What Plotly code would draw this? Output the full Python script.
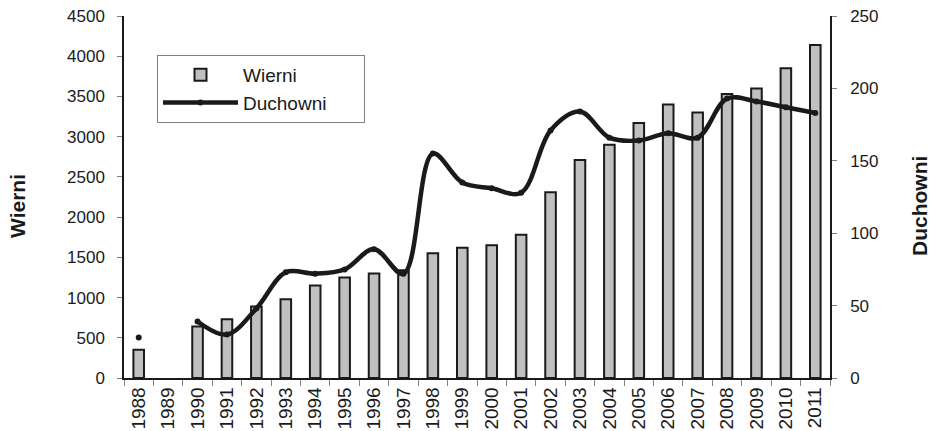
import plotly.graph_objects as go

years = [str(y) for y in range(1988, 2012)]
wierni = [350, None, 640, 730, 890, 980, 1150, 1250, 1300, 1340, 1550, 1620,
          1650, 1780, 2310, 2710, 2900, 3170, 3400, 3300, 3530, 3600, 3850, 4140]
duchowni = [28, None, 39, 30, 48, 73, 72, 75, 89, 72, 155, 135,
            131, 128, 171, 184, 166, 164, 169, 166, 193, 191, 187, 183]

FONT = "Liberation Sans, Arial, sans-serif"
PAD = "\u00a0" * 6

fig = go.Figure()
fig.add_trace(go.Bar(
    x=years, y=wierni, name="Wierni", width=0.36,
    marker=dict(color="#c0c0c0", line=dict(color="#1a1a1a", width=2)),
    yaxis="y",
))
fig.add_trace(go.Scatter(
    x=years, y=duchowni, name="Duchowni" + PAD, mode="lines+markers",
    line=dict(color="#1a1a1a", width=4.5, shape="spline", smoothing=1),
    marker=dict(color="#1a1a1a", size=6),
    connectgaps=False, yaxis="y2",
))

fig.update_layout(
    width=934, height=431,
    margin=dict(l=124, r=104, t=16, b=53),
    paper_bgcolor="white", plot_bgcolor="white",
    font=dict(family=FONT, size=17, color="#1a1a1a"),
    showlegend=True,
    legend=dict(
        x=(157 - 124) / 706, y=(378 - 55) / 362, xanchor="left", yanchor="top",
        bgcolor="white", bordercolor="#808080", borderwidth=1,
        font=dict(family=FONT, size=19, color="#1a1a1a"),
        itemwidth=75, tracegroupgap=4,
    ),
    xaxis=dict(
        type="category", tickangle=-90, showline=True, linecolor="#1a1a1a", linewidth=1.5,
        ticks="outside", tickson="boundaries", ticklen=6, tickcolor="#808080",
        showgrid=False, tickfont=dict(size=19), range=[-0.5, 23.5], automargin=False,
    ),
    yaxis=dict(
        range=[0, 4500], dtick=500, showline=True, linecolor="#1a1a1a", linewidth=1.5,
        ticks="outside", ticklen=5, tickcolor="#808080", showgrid=False,
        zeroline=False, ticklabelstandoff=9, automargin=False,
    ),
    yaxis2=dict(
        range=[0, 250], dtick=50, overlaying="y", side="right", showline=True,
        linecolor="#1a1a1a", linewidth=1.5, ticks="outside", ticklen=5,
        tickcolor="#808080", showgrid=False, zeroline=False, ticklabelstandoff=10,
        automargin=False,
    ),
    annotations=[
        dict(text="<b>Wierni</b>", textangle=-90, xref="paper", yref="paper",
             x=(17 - 124) / 706, y=(378 - 206) / 362, xanchor="center", yanchor="middle",
             showarrow=False, font=dict(family=FONT, size=21, color="#1a1a1a")),
        dict(text="<b>Duchowni</b>", textangle=-90, xref="paper", yref="paper",
             x=(919 - 124) / 706, y=(378 - 206) / 362, xanchor="center", yanchor="middle",
             showarrow=False, font=dict(family=FONT, size=21, color="#1a1a1a")),
    ],
)

fig.write_html("out.html", config={"displayModeBar": False},
               post_script="document.body.style.margin='0';")
